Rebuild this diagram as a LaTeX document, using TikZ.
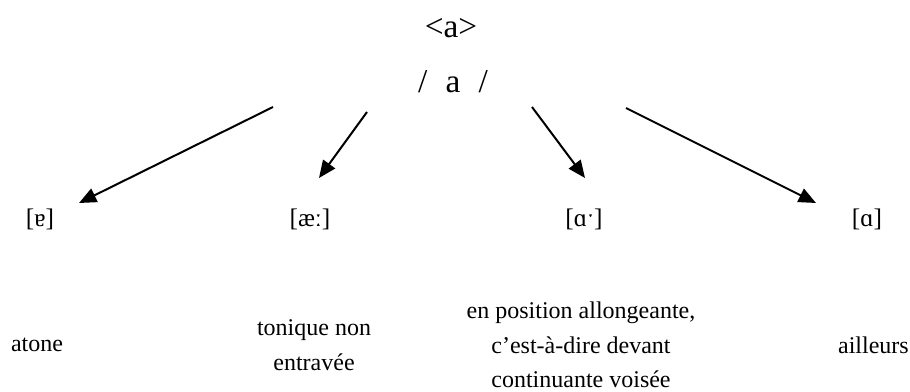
\documentclass[tikz,border=0pt]{standalone}
\usepackage{fontspec}
\setmainfont{Liberation Serif}
\usetikzlibrary{arrows.meta}

\begin{document}
\begin{tikzpicture}[x=0.75pt, y=-0.75pt,
        top/.style={font=\fontsize{25}{28}\selectfont, inner sep=0pt},
        ipa/.style={font=\fontsize{19}{22}\selectfont, inner sep=0pt},
        ctx/.style={font=\fontsize{18}{26}\selectfont, align=center, inner sep=0pt},
        arr/.style={-{Triangle[length=13pt, width=11pt]}, line width=1.5pt}
    ]
        \useasboundingbox (0,0) rectangle (910,392);

        % Nodes
        \node[top] (graph) at (451,28) {<a>};
        \node[top] (phon) at (453,82) {/\hspace{0.55em}a\hspace{0.55em}/};

        \node[ipa] (ipaA) at (40,219) {[ɐ]};
        \node[ipa] (ipaB) at (310,219) {[æː]};
        \node[ipa] (ipaC) at (584,219) {[ɑˑ]};
        \node[ipa] (ipaD) at (867,219) {[ɑ]};

        \node[ctx] (ctxA) at (37,345) {atone};
        \node[ctx] (ctxB) at (314,345) {tonique non\\entravée};
        \node[ctx] (ctxC) at (581,345) {en position allongeante,\\c’est-à-dire devant\\continuante voisée};
        \node[ctx, anchor=east] (ctxD) at (909,345) {ailleurs};

        % Arrow ends
        \coordinate (sA) at (273,107);
        \coordinate (eA) at (79,203);
        \coordinate (sB) at (367,112);
        \coordinate (eB) at (319,178);
        \coordinate (sC) at (532,107);
        \coordinate (eC) at (585,178);
        \coordinate (sD) at (626,108);
        \coordinate (eD) at (816,203);

        % Edges
        \draw[arr] (sA) -- (eA);
        \draw[arr] (sB) -- (eB);
        \draw[arr] (sC) -- (eC);
        \draw[arr] (sD) -- (eD);

    \end{tikzpicture}
\end{document}
